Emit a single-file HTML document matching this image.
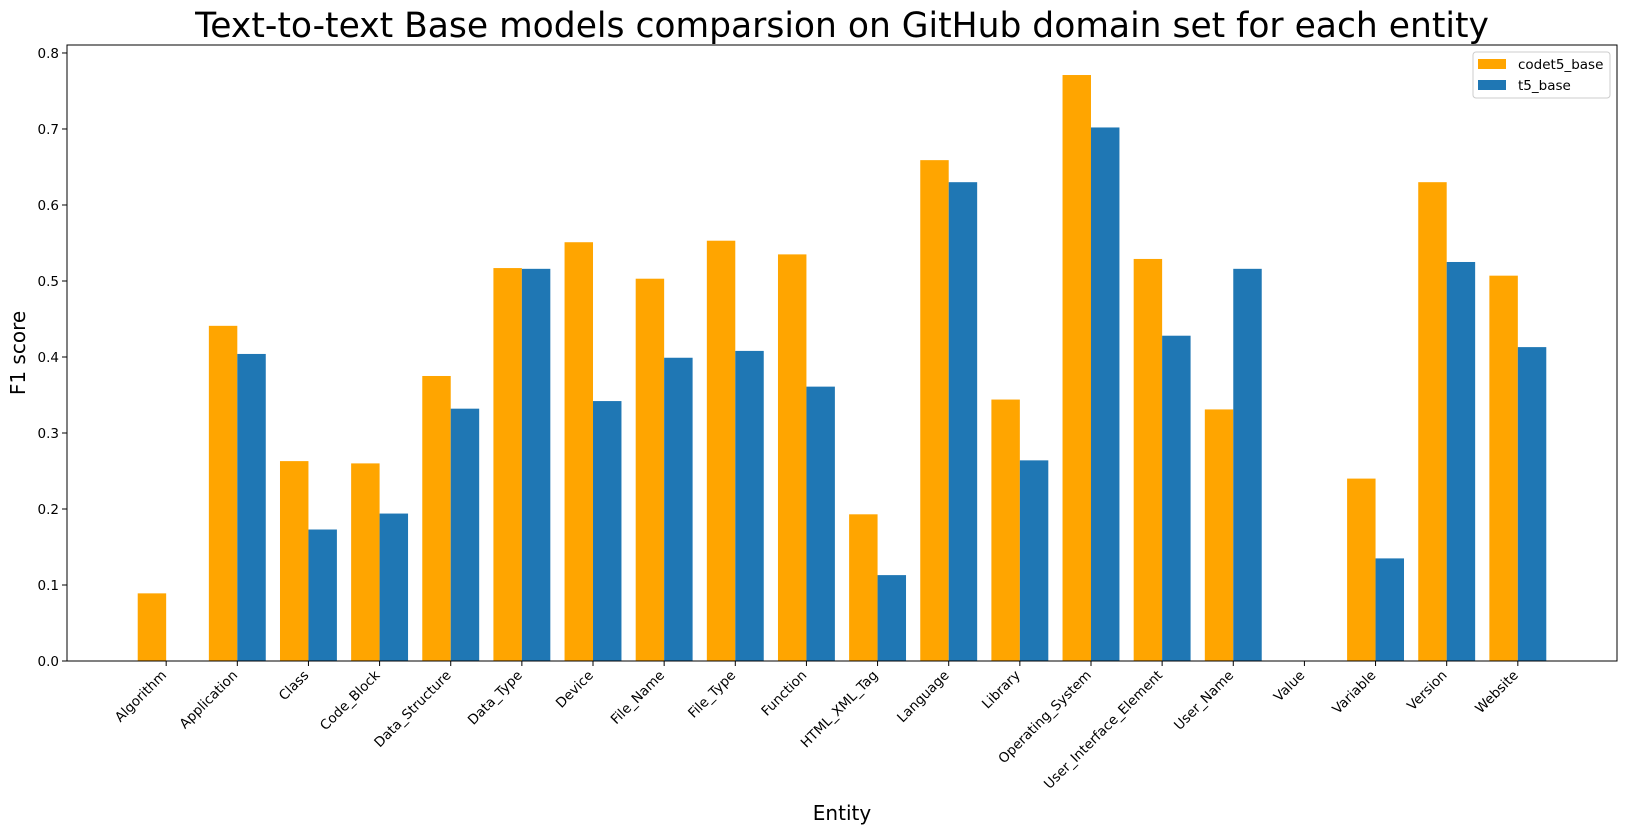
<!DOCTYPE html>
<html><head><meta charset="utf-8"><style>
body{margin:0;background:#fff;}
svg text{font-family:"DejaVu Sans","Liberation Sans",sans-serif;fill:#000;}
</style></head><body>
<svg id="chart" width="1627" height="833">
<text x="842" y="37" font-size="34.5" text-anchor="middle">Text-to-text Base models comparsion on GitHub domain set for each entity</text>
<g id="bars"></g>
<g id="axes"></g>
<text x="842" y="820" font-size="20" text-anchor="middle">Entity</text>
<text transform="translate(25,353) rotate(-90)" font-size="20" text-anchor="middle">F1 score</text>
<g>
<rect x="1473" y="52" width="137" height="46" fill="#fff" stroke="#ccc" rx="3"/>
<rect x="1478" y="59" width="28" height="10" fill="#FFA500"/>
<text x="1518" y="69" font-size="13.5">codet5_base</text>
<rect x="1478" y="80" width="28" height="10" fill="#1f77b4"/>
<text x="1518" y="90" font-size="13.5">t5_base</text>
</g>
</svg>
<script>
const categories=["Algorithm","Application","Class","Code_Block","Data_Structure","Data_Type","Device","File_Name","File_Type","Function","HTML_XML_Tag","Language","Library","Operating_System","User_Interface_Element","User_Name","Value","Variable","Version","Website"];
const codet5=[0.089,0.441,0.263,0.260,0.375,0.517,0.551,0.503,0.553,0.535,0.193,0.659,0.344,0.771,0.529,0.331,0,0.240,0.630,0.507];
const t5=[0,0.404,0.173,0.194,0.332,0.516,0.342,0.399,0.408,0.361,0.113,0.630,0.264,0.702,0.428,0.516,0,0.135,0.525,0.413];
const yTicks=[0,0.1,0.2,0.3,0.4,0.5,0.6,0.7,0.8];
const NS="http://www.w3.org/2000/svg";
const L=67,R=1617,T=45,B=661;
const x0=-1.394,x1=20.394,y0=0,y1=0.8105;
const xs=v=>L+(v-x0)/(x1-x0)*(R-L);
const ys=v=>B-(v-y0)/(y1-y0)*(B-T);
const bw=xs(0.4)-xs(0);
const bars=document.getElementById('bars'),axes=document.getElementById('axes');
function mk(tag,a,p){const e=document.createElementNS(NS,tag);for(const k in a)e.setAttribute(k,a[k]);p.appendChild(e);return e;}
categories.forEach((c,i)=>{
  const r1=mk('rect',{x:xs(i-0.4),y:ys(codet5[i]),width:bw,height:B-ys(codet5[i]),fill:'#FFA500'},bars);
  
  
  const r2=mk('rect',{x:xs(i),y:ys(t5[i]),width:bw,height:B-ys(t5[i]),fill:'#1f77b4'},bars);
  
  
  const X=xs(i);
  mk('line',{x1:X,x2:X,y1:B,y2:B+5,stroke:'#000'},axes);
  const t=mk('text',{transform:`translate(${X+1},${B+15}) rotate(-45)`,'font-size':13.5,'text-anchor':'end'},axes);
  t.textContent=c;
  
  
});
yTicks.forEach(v=>{
  const Y=ys(v);
  mk('line',{x1:L-5,x2:L,y1:Y,y2:Y,stroke:'#000'},axes);
  const t=mk('text',{x:L-8,y:Y+5,'font-size':13.5,'text-anchor':'end'},axes);
  t.textContent=v.toFixed(1);
  
  
});
const f=mk('rect',{x:L,y:T,width:R-L,height:B-T,fill:'none',stroke:'#000','stroke-width':1},axes);


</script>
</body></html>
